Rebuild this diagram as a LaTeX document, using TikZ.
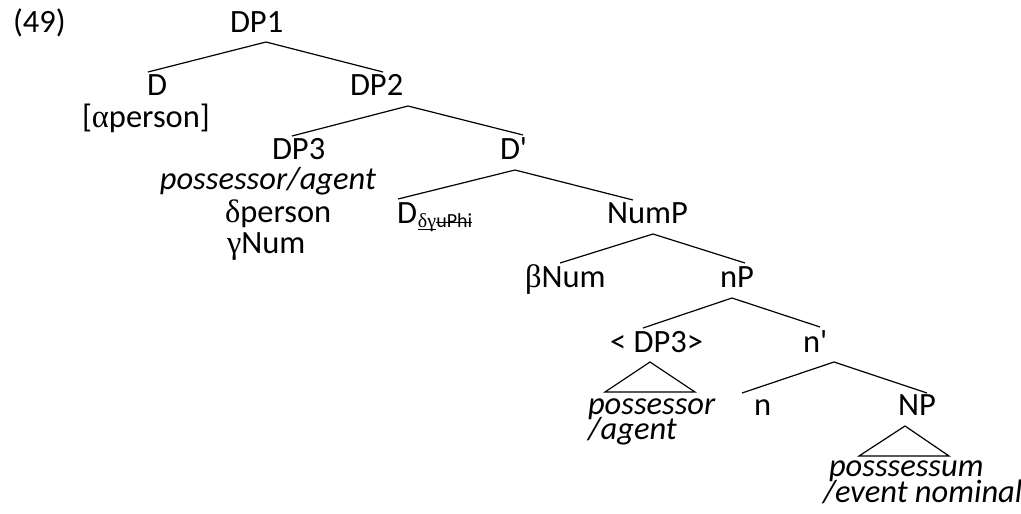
\documentclass[tikz,border=0pt]{standalone}
\usepackage{fontspec}
\setmainfont{Carlito}
\newfontfamily\plainf{Carlito}
\newfontfamily\grk{Liberation Serif}
\newsavebox\mybx
\newcommand\myul[1]{\sbox\mybx{#1}\rlap{\rule[-3pt]{\wd\mybx}{0.9pt}}\usebox\mybx}
\newcommand\mystk[1]{\sbox\mybx{#1}\rlap{\rule[3.8pt]{\wd\mybx}{0.9pt}}\usebox\mybx}
\newcommand\prm{{\plainf\symbol{39}}}
\begin{document}
\begin{tikzpicture}[x=1pt,y=-1pt,
  every node/.style={inner sep=0pt,outer sep=0pt,font=\fontsize{32.5}{38}\selectfont},
  lbl/.style={anchor=base west},
  lblr/.style={anchor=base east},
  branch/.style={line width=1.2pt}]
\useasboundingbox (0,0) rectangle (1021,514);
% labels
\node[lbl] (ex) at (13,32) {(49)};
\node[lbl] (dp1) at (230,32) {DP1};
\node[lbl] (d) at (147,95) {D};
\node[lbl] (alpha) at (82,127) {[{\grk α}person]};
\node[lbl] (dp2) at (350,95) {DP2};
\node[lbl] (dp3) at (272,159) {DP3};
\node[lblr] (pa) at (376,189) {\itshape possessor/agent};
\node[lbl] (delta) at (225,222) {{\grk δ}person};
\node[lbl] (gamma) at (227,253) {{\grk γ}Num};
\node[lbl] (dbar) at (500,159) {D\prm};
\node[lbl] (dd) at (397,223) {D\kern1pt\raisebox{-4pt}{\fontsize{20}{22}\selectfont\myul{\grk δγ}\mystk{uPhi}}};
\node[lbl] (nump) at (607,223) {NumP};
\node[lbl] (beta) at (525,287) {{\grk β}Num};
\node[lbl] (np) at (720,287) {nP};
\node[lbl] (tdp3) at (610,352) {< DP3>};
\node[lbl] (nbar) at (803,352) {n\prm};
\node[lbl] (poss) at (588,414) {\itshape possessor};
\node[lbl] (ag) at (588,439) {\itshape /agent};
\node[lbl] (n) at (754,415) {n};
\node[lbl] (NP) at (898,415) {NP};
\node[lbl] (psm) at (829,476) {\itshape posssessum};
\node[lbl] (ev) at (823,502) {\itshape /event nominal};
% branch points
\coordinate (dp1t) at (266,42);  \coordinate (dp1l) at (148,72);  \coordinate (dp1r) at (383,72);
\coordinate (dp2t) at (408,106); \coordinate (dp2l) at (292,136); \coordinate (dp2r) at (523,135);
\coordinate (dbt) at (515,170);  \coordinate (dbl) at (398,199);  \coordinate (dbr) at (633,200);
\coordinate (nmt) at (653,234);  \coordinate (nml) at (560,263);  \coordinate (nmr) at (745,263);
\coordinate (npt) at (732,298);  \coordinate (npl) at (643,328);  \coordinate (npr) at (820,327);
\coordinate (nbt) at (834,362);  \coordinate (nbl) at (742,393);  \coordinate (nbr) at (927,393);
\coordinate (t1t) at (650,362);  \coordinate (t1l) at (605,392);  \coordinate (t1r) at (695,392);
\coordinate (t2t) at (905,426);  \coordinate (t2l) at (859,456);  \coordinate (t2r) at (949,456);
\draw[branch] (dp1l) -- (dp1t) -- (dp1r);
\draw[branch] (dp2l) -- (dp2t) -- (dp2r);
\draw[branch] (dbl) -- (dbt) -- (dbr);
\draw[branch] (nml) -- (nmt) -- (nmr);
\draw[branch] (npl) -- (npt) -- (npr);
\draw[branch] (nbl) -- (nbt) -- (nbr);
\draw[branch] (t1t) -- (t1l) -- (t1r) -- cycle;
\draw[branch] (t2t) -- (t2l) -- (t2r) -- cycle;
\end{tikzpicture}
\end{document}
